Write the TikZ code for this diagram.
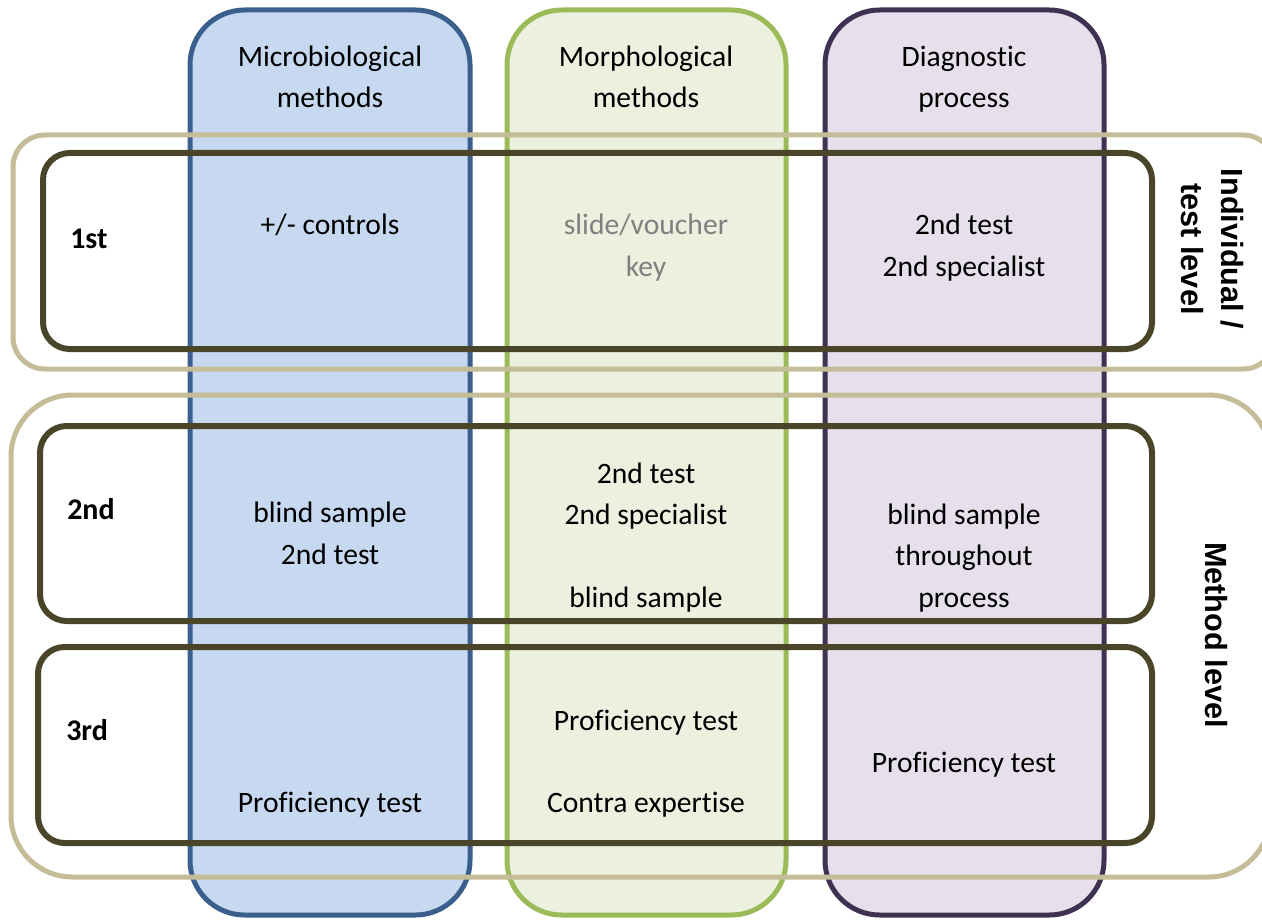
\documentclass[tikz,border=0pt]{standalone}
\usepackage{fontspec}
\setmainfont{Carlito}[Ligatures=NoCommon]
\newfontfamily\sidefont{Liberation Sans}
\definecolor{bluefill}{HTML}{C6D9F1}
\definecolor{bluedraw}{HTML}{3A5F8C}
\definecolor{greenfill}{HTML}{EBF1DE}
\definecolor{greendraw}{HTML}{9BBB59}
\definecolor{purplefill}{HTML}{E5E0EC}
\definecolor{purpledraw}{HTML}{403152}
\definecolor{tanline}{HTML}{C4BD97}
\definecolor{oliveline}{HTML}{4A4529}
\definecolor{graytext}{HTML}{808080}
\begin{document}
\begin{tikzpicture}[x=0.75pt,y=-0.75pt,
  colbox/.style={line width=3.75pt, rounded corners=41pt},
  outerbox/.style={draw=tanline, line width=3.75pt},
  levelbox/.style={draw=oliveline, line width=4.5pt, rounded corners=20pt},
  txt/.style={font=\fontsize{22.2}{31}\selectfont, align=center, anchor=base, inner sep=0pt},
  lvl/.style={font=\fontsize{22.5}{31}\selectfont\bfseries, anchor=base west, inner sep=0pt},
  side/.style={font=\sidefont\fontsize{23}{30}\selectfont\bfseries, align=center, rotate=-90, anchor=base, inner sep=0pt}]
\useasboundingbox (0,0) rectangle (1262,920);
% columns
\draw[colbox, fill=bluefill, draw=bluedraw] (190,10) rectangle (470,915);
\draw[colbox, fill=greenfill, draw=greendraw] (507,10) rectangle (786,915);
\draw[colbox, fill=purplefill, draw=purpledraw] (825,10) rectangle (1104,915);
% outer level boxes
\begin{scope}
\clip (0,0) rectangle (1262,920);
\draw[outerbox, rounded corners=24pt] (13,135) rectangle (1275,369);
\draw[outerbox, rounded corners=46pt] (11,395) rectangle (1270,877);
\end{scope}
% inner level boxes
\draw[levelbox] (43,153) rectangle (1152,349);
\draw[levelbox] (40,426) rectangle (1152,621);
\draw[levelbox] (38,647) rectangle (1152,843);
% headers (anchor = baseline of last line)
\node[txt] (h1) at (330,108) {Microbiological\\methods};
\node[txt] (h2) at (646,108) {Morphological\\methods};
\node[txt] (h3) at (964,108) {Diagnostic\\process};
% level labels
\node[lvl] (l1) at (70,248) {1st};
\node[lvl] (l2) at (67,519) {2nd};
\node[lvl] (l3) at (66,740) {3rd};
% row 1
\node[txt] (a1) at (330,234) {+/- controls};
\node[txt, text=graytext] (b1) at (646,276) {slide/voucher\\key};
\node[txt] (c1) at (964,276) {2nd test\\2nd specialist};
% row 2
\node[txt] (a2) at (330,564) {blind sample\\2nd test};
\node[txt] (b2) at (646,607) {2nd test\\2nd specialist\\[31pt]blind sample};
\node[txt] (c2) at (964,607) {blind sample\\throughout\\process};
% row 3
\node[txt] (a3) at (330,812) {Proficiency test};
\node[txt] (b3) at (646,812) {Proficiency test\\[30pt]Contra expertise};
\node[txt] (c3) at (964,772) {Proficiency test};
% side labels (anchor = baseline of last line)
\node[side] (s1) at (1181,249) {Individual /\\test level};
\node[side] (s2) at (1205,635) {Method level};
\end{tikzpicture}
\end{document}
